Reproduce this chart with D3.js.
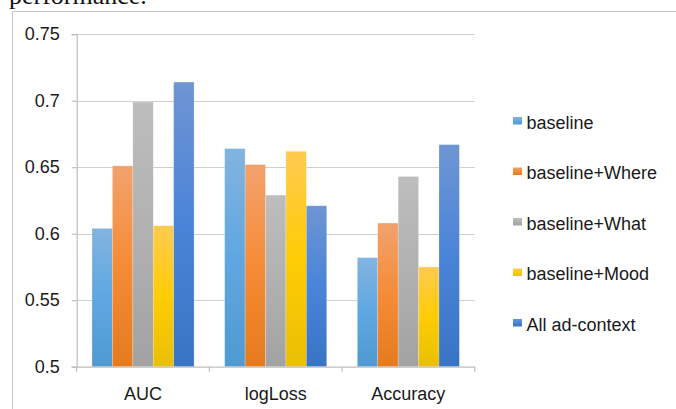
<!DOCTYPE html>
<html>
<head>
<meta charset="utf-8">
<script src="https://cdn.jsdelivr.net/npm/d3@7"></script>
<style>
  html, body { margin: 0; padding: 0; background: #fff; }
  svg { display: block; }
</style>
</head>
<body>
<script>
// Metrics compared across the five feature sets
const categories = ["AUC", "logLoss", "Accuracy"];
const seriesNames = ["baseline", "baseline+Where", "baseline+What", "baseline+Mood", "All ad-context"];
const baseline      = [0.604, 0.664, 0.582];
const baselineWhere = [0.651, 0.652, 0.608];
const baselineWhat  = [0.699, 0.629, 0.643];
const baselineMood  = [0.606, 0.662, 0.575];
const allAdContext  = [0.714, 0.621, 0.667];
const yTicks = [0.5, 0.55, 0.6, 0.65, 0.7, 0.75];
const yTickLabels = ["0.5", "0.55", "0.6", "0.65", "0.7", "0.75"];

const seriesValues = [baseline, baselineWhere, baselineWhat, baselineMood, allAdContext];

// top / middle / bottom shades of each series' vertical gradient
const shades = [
  ["#82b4e0", "#5fa7e2", "#4f9ad2"],
  ["#f2a26e", "#f58b36", "#e67a1d"],
  ["#bdbdbd", "#b1b1b1", "#a2a2a2"],
  ["#ffca50", "#ffcc05", "#e9bf04"],
  ["#6f95d3", "#4a84d8", "#3874c3"]
];

const W = 676, H = 409;
const svg = d3.select("body").append("svg").attr("width", W).attr("height", H);

const defs = svg.append("defs");
shades.forEach((s, i) => {
  const g = defs.append("linearGradient")
    .attr("id", "grad" + i).attr("x1", 0).attr("y1", 0).attr("x2", 0).attr("y2", 1);
  g.append("stop").attr("offset", "0%").attr("stop-color", s[0]);
  g.append("stop").attr("offset", "50%").attr("stop-color", s[1]);
  g.append("stop").attr("offset", "100%").attr("stop-color", s[2]);
});

// surrounding document text and chart frame
svg.append("text")
  .attr("x", 9).attr("y", 4)
  .attr("font-family", "'Liberation Serif', 'Times New Roman', serif")
  .attr("font-size", 26).attr("fill", "#111")
  .text("performance.");

svg.append("path")
  .attr("d", `M12.5,${H} V11.5 H${W}`)
  .attr("fill", "none").attr("stroke", "#c4c4c4").attr("stroke-width", 1);

const plot = { left: 76.7, right: 474.7, top: 34.2, bottom: 366.7 };

const x = d3.scaleBand().domain(categories).range([plot.left, plot.right]).paddingInner(0).paddingOuter(0);
const y = d3.scaleLinear().domain([0.5, 0.75]).range([plot.bottom, plot.top]);

// gridlines
svg.append("g").selectAll("line").data(yTicks.slice(1)).join("line")
  .attr("x1", plot.left).attr("x2", plot.right)
  .attr("y1", d => Math.round(y(d)) + 0.5).attr("y2", d => Math.round(y(d)) + 0.5)
  .attr("stroke", "#cfcfcf").attr("stroke-width", 1.2);

// bars: each group holds five bars with gap = 1.5 bar widths
const bw = x.bandwidth() / (seriesNames.length + 1.5);
const inner = d3.scaleBand().domain(d3.range(seriesNames.length))
  .range([bw * 0.75, bw * 0.75 + bw * seriesNames.length]).padding(0);

const groups = svg.append("g").selectAll("g").data(categories).join("g")
  .attr("transform", d => `translate(${x(d)},0)`);

groups.selectAll("rect")
  .data((c, ci) => seriesValues.map((vals, si) => ({ si, v: vals[ci] })))
  .join("rect")
  .attr("x", d => inner(d.si))
  .attr("width", inner.bandwidth())
  .attr("y", d => y(d.v))
  .attr("height", d => y(0.5) - y(d.v))
  .attr("fill", d => `url(#grad${d.si})`)
  .attr("stroke", "rgba(255,255,255,0.35)")
  .attr("stroke-width", 0.6);

// y axis
const yAxis = d3.axisLeft(y).tickValues(yTicks)
  .tickFormat((d, i) => yTickLabels[i]).tickSize(5).tickPadding(12);
const gy = svg.append("g").attr("transform", `translate(${plot.left},0)`).call(yAxis);
gy.select(".domain").attr("stroke", "#bfbfbf").attr("stroke-width", 1.2);
gy.selectAll(".tick line").attr("stroke", "#bfbfbf").attr("stroke-width", 1.2);
gy.selectAll(".tick text")
  .attr("font-family", "'Liberation Sans', Arial, sans-serif")
  .attr("font-size", 18).attr("fill", "#1a1a1a");

// x axis with tick marks at category boundaries
const xAxis = d3.axisBottom(x).tickSize(0).tickPadding(21);
const gx = svg.append("g").attr("transform", `translate(0,${plot.bottom})`).call(xAxis);
gx.select(".domain").attr("stroke", "#bfbfbf").attr("stroke-width", 1.2);
gx.selectAll(".tick text")
  .attr("font-family", "'Liberation Sans', Arial, sans-serif")
  .attr("font-size", 18).attr("fill", "#1a1a1a");
gx.selectAll("line.sep").data(categories.map(c => x(c) + x.bandwidth()).concat([plot.left]))
  .join("line").attr("class", "sep")
  .attr("x1", d => d).attr("x2", d => d).attr("y1", 0).attr("y2", 5)
  .attr("stroke", "#bfbfbf").attr("stroke-width", 1.2);

// legend
const legend = svg.append("g").attr("transform", "translate(513,117)");
const item = legend.selectAll("g").data(seriesNames).join("g")
  .attr("transform", (d, i) => `translate(0,${i * 50.5})`);
item.append("rect")
  .attr("width", 9).attr("height", 7.5)
  .attr("fill", (d, i) => `url(#grad${i})`);
item.append("text")
  .attr("x", 13.5).attr("y", 11.5)
  .attr("font-family", "'Liberation Sans', Arial, sans-serif")
  .attr("font-size", 18).attr("fill", "#1a1a1a")
  .text(d => d);
</script>
</body>
</html>
